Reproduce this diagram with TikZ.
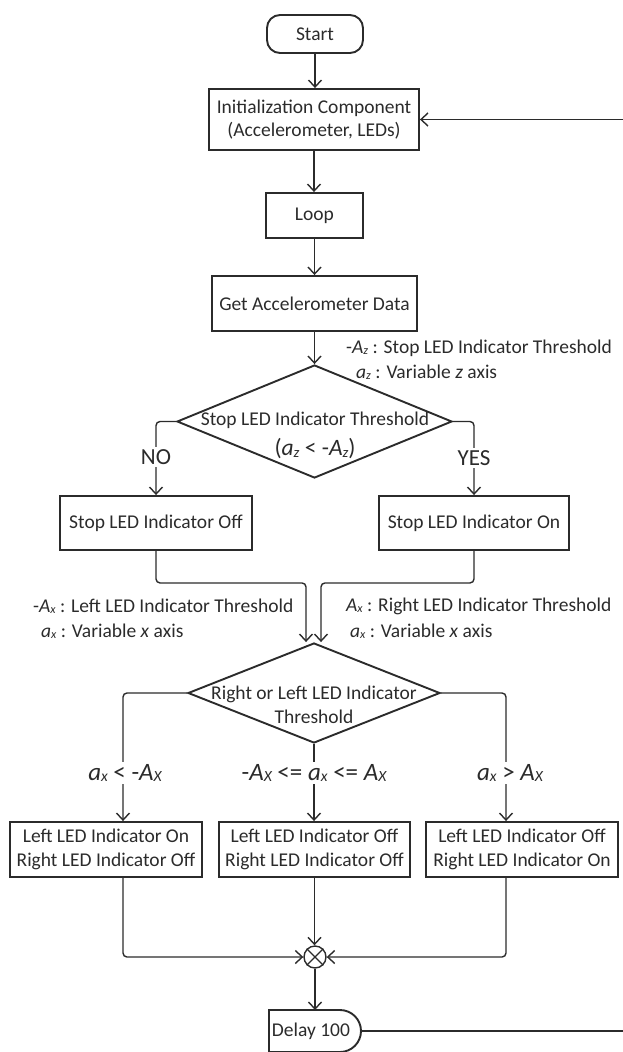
\documentclass[tikz,border=0pt]{standalone}
\usepackage{fontspec}
\setmainfont{Carlito}
\usepackage{graphicx}
\usetikzlibrary{shapes.geometric,arrows.meta}
\definecolor{ink}{HTML}{2B2B2B}
\newcommand{\vsub}[1]{\raisebox{-0.12ex}{\scalebox{0.62}{\itshape #1}}}
\newcommand{\vA}[1]{\textit{A}\vsub{#1}}
\newcommand{\va}[1]{\textit{a}\vsub{#1}}
\begin{document}
\begin{tikzpicture}[x=1pt,y=-1pt,font=\fontsize{19.5}{23.5}\selectfont,
  box/.style={draw=ink,line width=1.9pt,text=ink,inner sep=0pt,align=center},
  arr/.style={draw=ink,line width=1.4pt,-{Straight Barb[length=7pt,width=13pt]},rounded corners=4pt},
  lbl/.style={text=ink,inner sep=1pt,anchor=west},
  cond/.style={text=ink,fill=white,inner sep=2pt,font=\fontsize{25}{28}\selectfont},
  yn/.style={text=ink,fill=white,inner sep=2pt,font=\fontsize{23}{26}\selectfont},
  dia/.style={diamond,draw=ink,line width=1.9pt,inner sep=0pt}]
\useasboundingbox (0,0) rectangle (623,1052);
% top chain
\node[box,rounded corners=13pt,minimum width=96,minimum height=38] (start) at (315,34) {Start};
\node[box,minimum width=210,minimum height=61] (init) at (314,119.5) {Initialization Component\\(Accelerometer, LEDs)};
\node[box,minimum width=97,minimum height=45] (loop) at (314.5,215.5) {Loop};
\node[box,minimum width=205,minimum height=55] (get) at (314.5,303.5) {Get Accelerometer Data};
\draw[arr] (start.south) -- (start.south |- init.north);
\draw[arr] (init.south) -- (init.south |- loop.north);
\draw[arr] (loop.south) -- (loop.south |- get.north);
\node[lbl] (lz1) at (345,348) {-\vA{z} : Stop LED Indicator Threshold};
\node[lbl] (lz2) at (355,372) {\va{z} : Variable \textit{z} axis};
% decision 1
\node[dia,minimum width=275,minimum height=113] (d1) at (314.5,421.5) {};
\node[text=ink] (d1a) at (315,420) {Stop LED Indicator Threshold};
\node[text=ink,font=\fontsize{23.5}{26}\selectfont] (d1b) at (315,449) {(\va{z} < -\vA{z})};
\draw[arr] (get.south) -- (get.south |- d1.north);
\node[box,minimum width=192,minimum height=54] (off) at (156,523) {Stop LED Indicator Off};
\node[box,minimum width=190,minimum height=54] (on) at (474,523) {Stop LED Indicator On};
\draw[arr] (d1.west) -| (off.north);
\draw[arr] (d1.east) -| (on.north);
\node[yn] (no) at (156,457) {NO};
\node[yn] (yes) at (474,458) {YES};
% decision 2
\node[dia,minimum width=252,minimum height=100] (d2) at (314,693) {};
\node[text=ink,align=center,font=\fontsize{19.5}{24}\selectfont] (d2t) at (314,705) {Right or Left LED Indicator\\Threshold};
\draw[arr] (off.south) -- ++(0,32) -| ([xshift=-8pt]d2.north);
\draw[arr] (on.south) -- ++(0,32) -| ([xshift=7pt]d2.north);
\node[lbl] (lx1) at (32,606) {-\vA{x} : Left LED Indicator Threshold};
\node[lbl] (lx2) at (40,631) {\va{x} : Variable \textit{x} axis};
\node[lbl] (rx1) at (345,606) {\vA{x} : Right LED Indicator Threshold};
\node[lbl] (rx2) at (349,631) {\va{x} : Variable \textit{x} axis};
% outcome boxes
\node[box,minimum width=192,minimum height=55] (b1) at (106,849.5) {Left LED Indicator On\\Right LED Indicator Off};
\node[box,minimum width=191,minimum height=55] (b2) at (314.5,849.5) {Left LED Indicator Off\\Right LED Indicator Off};
\node[box,minimum width=192,minimum height=55] (b3) at (522,849.5) {Left LED Indicator Off\\Right LED Indicator On};
\draw[arr] (d2.west) -| ([xshift=17pt]b1.north);
\draw[arr] (d2.south) -- (d2.south |- b2.north);
\draw[arr] (d2.east) -| ([xshift=-16pt]b3.north);
\node[cond] (c1) at (125,773) {\va{x} < -\vA{X}};
\node[cond] (c2) at (314,773) {-\vA{X} <= \va{x} <= \vA{X}};
\node[cond] (c3) at (510,773) {\va{x} > \vA{X}};
% merge
\node[circle,draw=ink,line width=1.4pt,minimum size=22,inner sep=0pt] (m) at (315,957) {};
\draw[ink,line width=1.2pt] (m.north east) -- (m.south west) (m.north west) -- (m.south east);
\draw[arr] ([xshift=17pt]b1.south) |- (m.west);
\draw[arr] (b2.south) -- (b2.south |- m.north);
\draw[arr] ([xshift=-16pt]b3.south) |- (m.east);
% delay
\draw[ink,line width=1.9pt] (269,1010) -- (340,1010) arc[start angle=-90,end angle=90,radius=21] -- (269,1052) -- cycle;
\coordinate (dN) at (315,1010);
\coordinate (dE) at (361,1031);
\node[text=ink] (delay) at (311,1031) {Delay 100};
\draw[arr] (m.south) -- (dN);
\draw[arr,sharp corners] (dE) -- (632,1031) |- (init.east);
\end{tikzpicture}
\end{document}
